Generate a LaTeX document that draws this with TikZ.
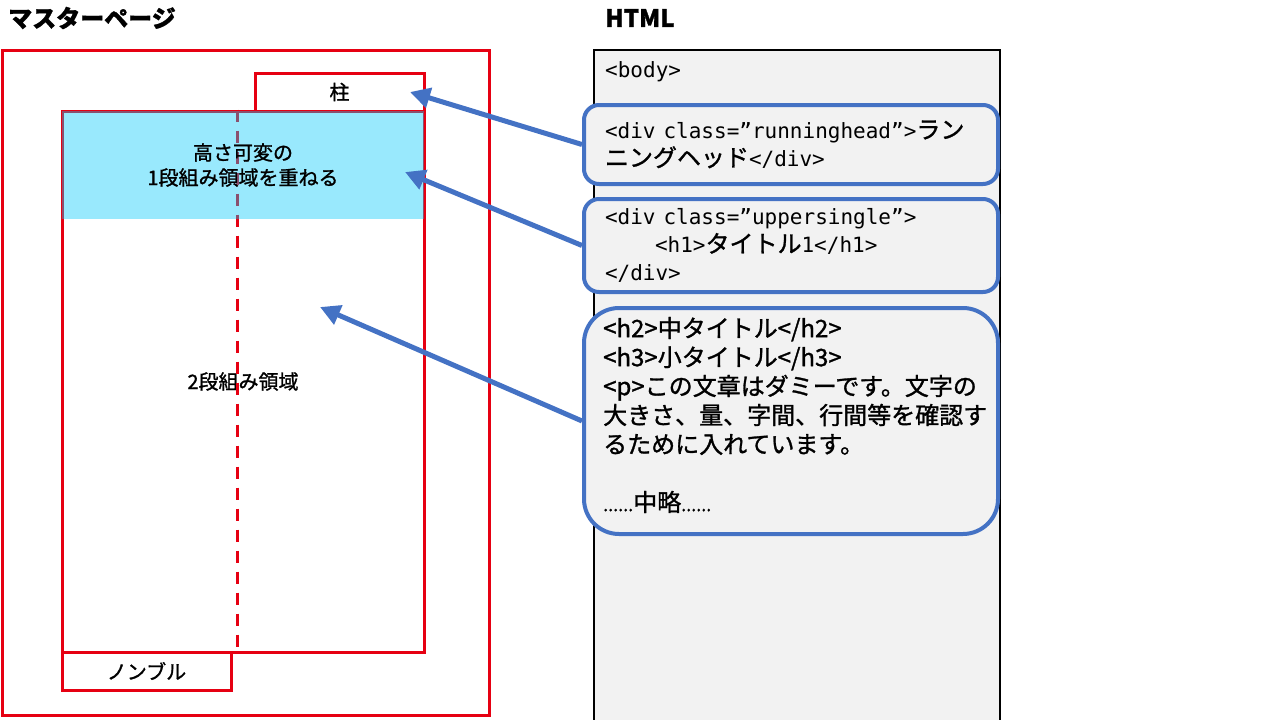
\documentclass[tikz,border=0pt]{standalone}
\usepackage{fontspec}
\setmainfont{Noto Sans CJK JP}[FakeBold=1.2]
\newfontfamily\codefont{DejaVu Sans Mono}[Scale=0.875]
\usetikzlibrary{arrows.meta}
\definecolor{pagered}{RGB}{230,0,18}
\definecolor{boxblue}{RGB}{68,114,196}
\definecolor{htmlgray}{RGB}{242,242,242}
\definecolor{areacyan}{RGB}{0,200,250}

\tikzset{
	redbox/.style={draw=pagered, line width=3pt, inner sep=0pt, font=\fontsize{20}{25}\selectfont},
	codebox/.style={draw=boxblue, fill=htmlgray, line width=4pt, rounded corners=15pt, inner xsep=21pt, text width=372pt, align=left, font=\fontsize{24}{28}\selectfont},
	link/.style={draw=boxblue, line width=5pt, -{Triangle[length=20pt, width=20pt]}},
	heading/.style={anchor=west, inner sep=0pt, font=\fontsize{24}{28}\selectfont\bfseries}
}

\begin{document}
\begin{tikzpicture}[x=1pt, y=-1pt]
		\useasboundingbox (0,0) rectangle (1280,720);
		\node[heading] (mastertitle) at (8,18) {マスターページ};
		\node[heading] (htmltitle) at (605,18) {HTML};
		
		% Draw the HTML column and its blocks
		\node[draw, fill=htmlgray, line width=2pt, minimum width=406pt, minimum height=672pt] (html) at (797,386) {};
		\node[anchor=west, inner sep=0pt, font=\fontsize{24}{28}\selectfont\codefont] (body) at (605,72) {<body>};
		\node[codebox, minimum height=79pt] (headbox) at (791,144.5) {{\codefont <div class=”runninghead”>}ラン\\ニングヘッド{\codefont </div>}};
		\node[codebox, minimum height=93pt] (singlebox) at (791,245.5) {{\codefont <div class=”uppersingle”>}\\\hspace*{50pt}{\codefont <h1>}タイトル{\codefont 1</h1>}\\{\codefont </div>}};
		\node[codebox, rounded corners=35pt, minimum height=226pt] (textbox) at (791,421) {};
		\node[anchor=west, inner sep=0pt, align=left, font=\fontsize{24}{29}\selectfont] (textbody) at ([xshift=21pt, yshift=6pt]textbox.west) {<h2>中タイトル</h2>\\<h3>小タイトル</h3>\\<p>この文章はダミーです。文字の\\大きさ、量、字間、行間等を確認す\\るために入れています。\\[29pt]{\fontsize{18}{24}\selectfont ......}中略{\fontsize{18}{24}\selectfont ......}};
		
		% Draw the master page
		\node[redbox, minimum width=487pt, minimum height=665pt] (master) at (245.5,382.5) {};
		\node[redbox, minimum width=169pt, minimum height=38pt] (hashira) at (339.5,92) {柱};
		\node[redbox, minimum width=362pt, minimum height=541pt] (double) at (243,381.5) {2段組み領域};
		\node[redbox, minimum width=169pt, minimum height=38pt] (nombre) at (146.5,671) {ノンブル};
		\draw[pagered, line width=3pt, dash pattern=on 12pt off 9pt] ([xshift=-6pt]double.north) -- ([xshift=-6pt]double.south);
		\node[fill=areacyan, fill opacity=0.4, text opacity=1, inner sep=0pt, minimum width=362pt, minimum height=108pt, align=center, font=\fontsize{20}{25}\selectfont] (single) at (243,165) {高さ可変の\\1段組み領域を重ねる};
		
		% Draw the arrows from the HTML blocks
		\coordinate (hashiratip) at (410,92);
		\coordinate (singletip) at (405,172);
		\coordinate (doubletip) at (320,307);
		\draw[link] (headbox.west) -- (hashiratip);
		\draw[link] (singlebox.west) -- (singletip);
		\draw[link] (textbox.west) -- (doubletip);
	\end{tikzpicture}
\end{document}
